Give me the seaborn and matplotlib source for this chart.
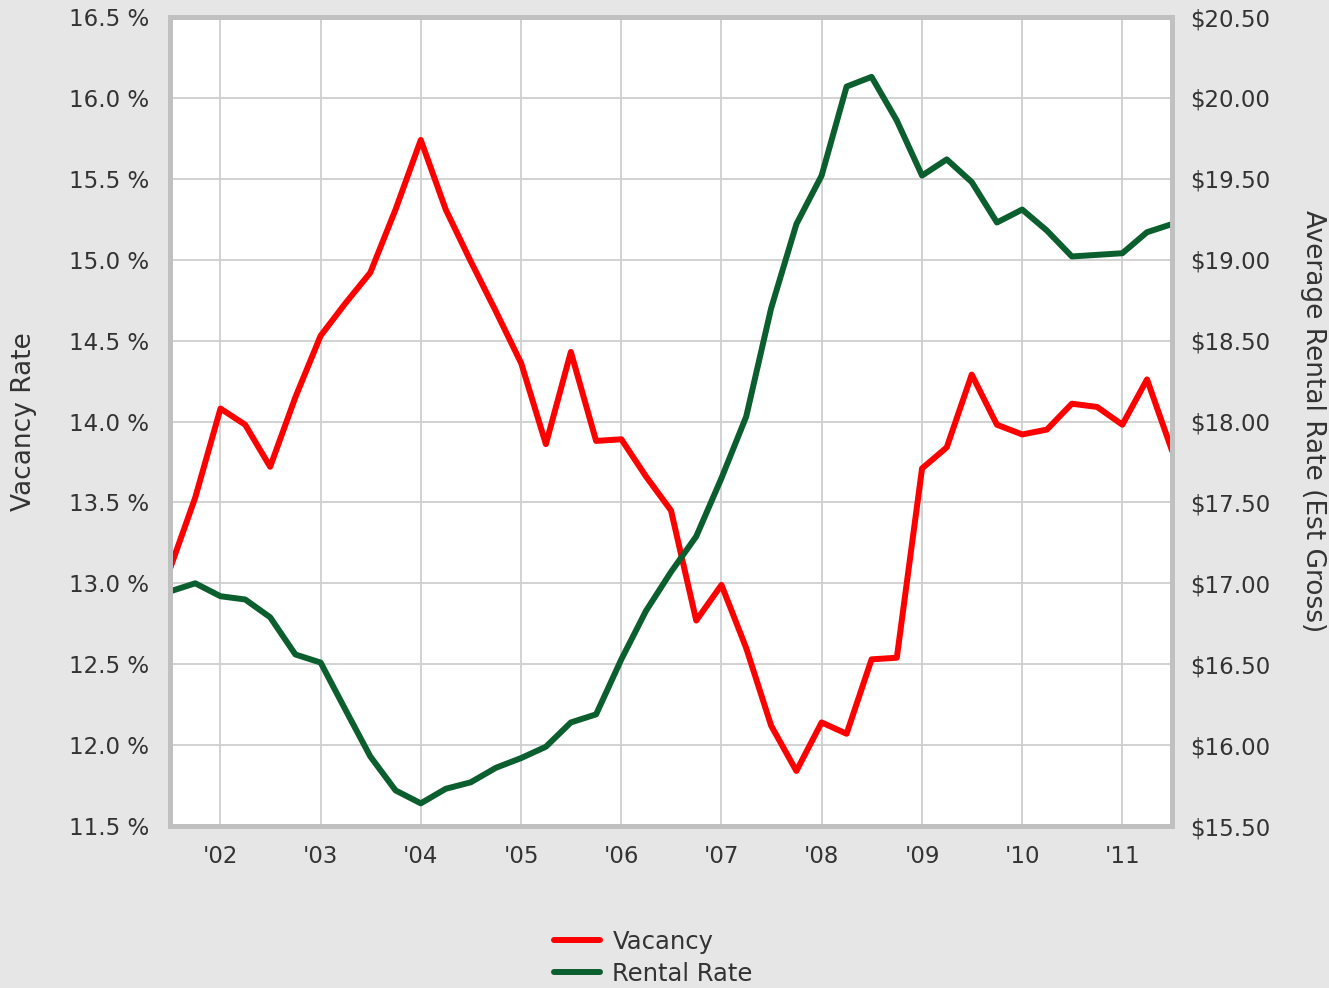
import pandas as pd
import numpy as np
import matplotlib.pyplot as plt
import matplotlib.dates as mdates
from matplotlib.ticker import FuncFormatter, MultipleLocator
import seaborn as sns

# quarterly data, Q3 2001 .. Q3 2011
quarters = pd.date_range("2001-07-01", "2011-07-01", freq="QS")
vacancy = [13.09, 13.53, 14.08, 13.98, 13.72, 14.15, 14.53, 14.73, 14.92, 15.31,
           15.74, 15.31, 14.99, 14.68, 14.36, 13.86, 14.43, 13.88, 13.89, 13.66,
           13.45, 12.77, 12.99, 12.60, 12.12, 11.84, 12.14, 12.07, 12.53, 12.54,
           13.71, 13.84, 14.29, 13.98, 13.92, 13.95, 14.11, 14.09, 13.98, 14.26, 13.82]
rental = [16.95, 17.00, 16.92, 16.90, 16.79, 16.56, 16.51, 16.22, 15.93, 15.72,
          15.64, 15.73, 15.77, 15.86, 15.92, 15.99, 16.14, 16.19, 16.53, 16.83,
          17.07, 17.29, 17.65, 18.03, 18.70, 19.22, 19.52, 20.07, 20.13, 19.86,
          19.52, 19.62, 19.48, 19.23, 19.31, 19.18, 19.02, 19.03, 19.04, 19.17, 19.22]

df = pd.DataFrame({"date": quarters, "Vacancy": vacancy, "Rental Rate": rental})

sns.set_style("white")
plt.rcParams["font.family"] = ["DejaVu Sans"]

bg = "#e6e6e6"
txt = "#333333"
red = "#ff0000"
green = "#0b5e2e"

fig = plt.figure(figsize=(13.29, 9.88), dpi=100, facecolor=bg)
ax = fig.add_axes([170 / 1329, 1 - 826 / 988, 1002 / 1329, 809 / 988])
ax.set_facecolor("white")
ax2 = ax.twinx()

sns.lineplot(data=df, x="date", y="Vacancy", ax=ax, color=red, linewidth=4.3,
             label="Vacancy", legend=False)
sns.lineplot(data=df, x="date", y="Rental Rate", ax=ax2, color=green, linewidth=4.3,
             label="Rental Rate", legend=False)

ax.set_xlim(quarters[0], quarters[-1])
ax.set_ylim(11.5, 16.5)
ax2.set_ylim(15.5, 20.5)

ax.xaxis.set_major_locator(mdates.YearLocator())
ax.xaxis.set_major_formatter(mdates.DateFormatter("'%y"))
ax.yaxis.set_major_locator(MultipleLocator(0.5))
ax2.yaxis.set_major_locator(MultipleLocator(0.5))
ax.yaxis.set_major_formatter(FuncFormatter(lambda v, p: f"{v:.1f} %"))
ax2.yaxis.set_major_formatter(FuncFormatter(lambda v, p: f"${v:.2f}"))

ax.grid(True, color="#cfcfcf", linewidth=1.3)
ax.set_axisbelow(True)
ax2.grid(False)

for a in (ax, ax2):
    a.tick_params(length=0, labelsize=16.5, labelcolor=txt)
    for s in a.spines.values():
        s.set_color("#c0c0c0")
        s.set_linewidth(3.5)
ax.tick_params(axis="y", pad=15)
ax.tick_params(axis="x", pad=14)
ax2.tick_params(axis="y", pad=13)

ax.set_xlabel("")
ax.set_ylabel("Vacancy Rate", fontsize=19, color=txt, labelpad=23)
ax2.set_ylabel("Average Rental Rate (Est Gross)", fontsize=19, color=txt,
               rotation=270, labelpad=40)

handles = ax.get_lines()[:1] + ax2.get_lines()[:1]
fig.legend(handles, ["Vacancy", "Rental Rate"], loc="upper left",
           bbox_to_anchor=(554 / 1329, 1 - 930 / 988), frameon=False,
           fontsize=17.5, labelcolor=txt, handlelength=1.9, handletextpad=0.5,
           labelspacing=0.32, borderpad=0, borderaxespad=0)

fig.savefig("out.png", dpi=100, facecolor=bg)
